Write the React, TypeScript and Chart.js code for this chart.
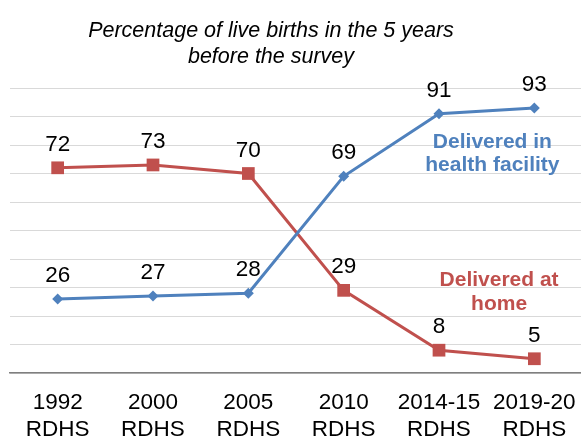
import React, { useEffect, useRef } from "react";
import { Chart, registerables } from "chart.js";

Chart.register(...registerables);

const categories: string[][] = [
  ["1992", "RDHS"],
  ["2000", "RDHS"],
  ["2005", "RDHS"],
  ["2010", "RDHS"],
  ["2014-15", "RDHS"],
  ["2019-20", "RDHS"],
];
const healthFacility: number[] = [26, 27, 28, 69, 91, 93];
const atHome: number[] = [72, 73, 70, 29, 8, 5];
const titleLines: string[] = ["Percentage of live births in the 5 years", "before the survey"];
const facilityLabel: string[] = ["Delivered in", "health facility"];
const homeLabel: string[] = ["Delivered at", "home"];

const BLUE = "#4F81BD";
const RED = "#C0504D";
const FONT = '"Liberation Sans", Arimo, Arial, sans-serif';

const overlayPlugin = {
  id: "overlay",
  afterDatasetsDraw(chart: any) {
    const ctx = chart.ctx;
    ctx.save();
    ctx.textAlign = "center";
    ctx.textBaseline = "alphabetic";
    // title
    ctx.fillStyle = "#000";
    ctx.font = `italic normal 21.5px ${FONT}`;
    titleLines.forEach((t, k) => ctx.fillText(t, 271, 37 + k * 26));
    // value labels
    ctx.font = `normal 22.5px ${FONT}`;
    chart.data.datasets.forEach((ds: any, i: number) => {
      const meta = chart.getDatasetMeta(i);
      meta.data.forEach((pt: any, j: number) => {
        ctx.fillText(String(ds.data[j]), pt.x, pt.y - 17);
      });
    });
    const xs = chart.scales.x;
    const ys = chart.scales.y;
    ctx.font = `bold 21px ${FONT}`;
    const step = xs.getPixelForValue(5) - xs.getPixelForValue(4);
    const cx1 = xs.getPixelForValue(4) + step * 0.56;
    ctx.fillStyle = BLUE;
    const by = ys.getPixelForValue(78.8);
    facilityLabel.forEach((t, k) => ctx.fillText(t, cx1, by + k * 23));
    const cx2 = xs.getPixelForValue(4) + step * 0.63;
    ctx.fillStyle = RED;
    const ry = ys.getPixelForValue(30.4);
    homeLabel.forEach((t, k) => ctx.fillText(t, cx2, ry + k * 24));
    ctx.restore();
  },
};

export default function App() {
  const ref = useRef<HTMLCanvasElement>(null);
  useEffect(() => {
    if (!ref.current) return;
    const chart = new Chart(ref.current, {
      type: "line",
      data: {
        labels: categories,
        datasets: [
          {
            label: "Delivered in health facility",
            data: healthFacility,
            borderColor: BLUE,
            backgroundColor: BLUE,
            borderWidth: 3,
            pointStyle: "rectRot",
            pointRadius: 5.5,
            pointBorderWidth: 0,
            tension: 0,
          },
          {
            label: "Delivered at home",
            data: atHome,
            borderColor: RED,
            backgroundColor: RED,
            borderWidth: 3,
            pointStyle: "rect",
            pointRadius: 9,
            pointBorderWidth: 0,
            tension: 0,
          },
        ],
      },
      options: {
        responsive: false,
        animation: false,
        layout: { padding: { left: 10, right: -2, top: 88, bottom: 0 } },
        plugins: {
          legend: { display: false },
          tooltip: { enabled: false },
          title: { display: false },
        },
        scales: {
          x: {
            offset: true,
            grid: {
              display: true,
              drawOnChartArea: false,
              drawTicks: true,
              tickLength: 16,
              tickColor: "rgba(0,0,0,0)",
              color: "rgba(0,0,0,0)",
            },
            border: { display: true, color: "#7f7f7f", width: 1.5 },
            ticks: {
              color: "#000",
              font: { family: FONT, size: 22.5, lineHeight: 1.2 },
              padding: 0,
              maxRotation: 0,
              autoSkip: false,
            },
          },
          y: {
            min: 0,
            max: 100,
            ticks: { display: false, stepSize: 10 },
            grid: { color: "#d9d9d9", lineWidth: 1, drawTicks: false },
            border: { display: false },
          },
        },
      },
      plugins: [overlayPlugin],
    });
    return () => chart.destroy();
  }, []);
  return (
    <div style={{ position: "absolute", left: 0, top: 0, width: 581, height: 436, overflow: "hidden", background: "#fff" }}>
      <canvas ref={ref} width={591} height={443} style={{ display: "block" }} />
    </div>
  );
}
